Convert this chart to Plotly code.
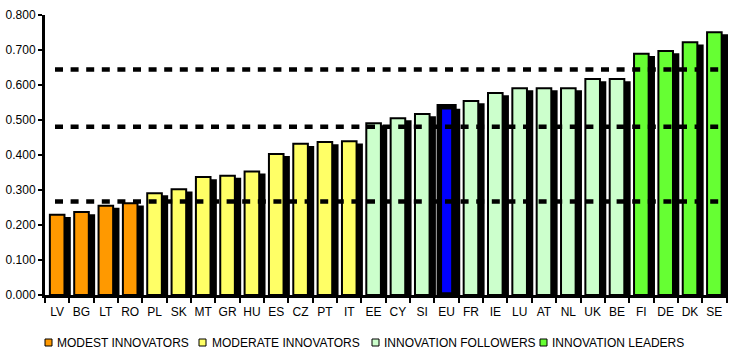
import plotly.graph_objects as go

# ---------------- data ----------------
countries = ["LV", "BG", "LT", "RO", "PL", "SK", "MT", "GR", "HU", "ES", "CZ", "PT", "IT",
             "EE", "CY", "SI", "EU", "FR", "IE", "LU", "AT", "NL", "UK", "BE",
             "FI", "DE", "DK", "SE"]
scores = [0.229, 0.237, 0.255, 0.262, 0.291, 0.302, 0.337, 0.341, 0.353, 0.403, 0.432, 0.437, 0.439,
          0.491, 0.505, 0.517, 0.538, 0.554, 0.577, 0.591, 0.591, 0.591, 0.617, 0.617,
          0.689, 0.697, 0.722, 0.751]
groups = (["MODEST"] * 4 + ["MODERATE"] * 9 + ["FOLLOWERS"] * 3 + ["EU"]
          + ["FOLLOWERS"] * 7 + ["LEADERS"] * 4)

group_keys = ["MODEST", "MODERATE", "FOLLOWERS", "LEADERS", "EU"]
group_labels = ["MODEST INNOVATORS", "MODERATE INNOVATORS", "INNOVATION FOLLOWERS",
                "INNOVATION LEADERS", "EU"]
group_colors = ["#FF9900", "#FFFF66", "#CCFFCC", "#66FF33", "#0000FF"]

thresholds = [0.267, 0.481, 0.644]
y_ticks = [0.0, 0.1, 0.2, 0.3, 0.4, 0.5, 0.6, 0.7, 0.8]

# ---------------- style ----------------
FONT = "Arial, Liberation Sans, sans-serif"
W, H = 736, 359
ML, MR, MT_, MB = 45, 8, 15, 64
PW, PH = W - ML - MR, H - MT_ - MB
SHADOW_DROP = 0.006


def px_x(p):
    return (p - ML) / PW


def px_y(p):
    return (H - MB - p) / PH


fig = go.Figure()

# shadow bars
fig.add_trace(go.Bar(
    x=countries, y=[s - SHADOW_DROP for s in scores],
    marker=dict(color="black", line=dict(width=0)),
    width=0.66, offset=-0.1, showlegend=False, hoverinfo="skip"))

# front bars by group
for key, label, color in zip(group_keys, group_labels, group_colors):
    xs = [c for c, g in zip(countries, groups) if g == key]
    ys = [s for s, g in zip(scores, groups) if g == key]
    fig.add_trace(go.Bar(
        x=xs, y=ys, name=label,
        marker=dict(color=color, line=dict(color="black", width=5.5 if key == "EU" else 2)),
        width=0.6, offset=-0.3, showlegend=False))

shapes = []
for t in thresholds:
    shapes.append(dict(type="line", xref="paper", yref="y", x0=px_x(55), x1=1.0, y0=t, y1=t,
                       line=dict(color="black", width=4.5, dash="8px,7.6px"), layer="above"))

# manual legend
legend_pos = [(45, 55), (199, 210), (372, 382), (540, 550)]
annotations = []
for (sx, tx), label, color in zip(legend_pos, group_labels[:4], group_colors[:4]):
    shapes.append(dict(type="rect", xref="paper", yref="paper",
                       x0=px_x(sx), x1=px_x(sx + 7), y0=px_y(346), y1=px_y(339),
                       fillcolor=color, line=dict(color="black", width=1)))
    annotations.append(dict(x=px_x(tx), y=px_y(342.5), xref="paper", yref="paper",
                            xanchor="left", yanchor="middle", showarrow=False, text=label,
                            font=dict(family=FONT, size=12, color="black")))

fig.update_layout(
    width=W, height=H,
    margin=dict(l=ML, r=MR, t=MT_, b=MB),
    barmode="overlay",
    plot_bgcolor="white", paper_bgcolor="white",
    font=dict(family=FONT, size=12, color="black"),
    shapes=shapes, annotations=annotations,
    showlegend=False,
)
fig.update_xaxes(type="category", categoryorder="array", categoryarray=countries,
                 showline=True, linewidth=3, linecolor="black", mirror=False,
                 ticks="outside", tickson="boundaries", ticklen=5, tickwidth=2, tickcolor="black",
                 tickangle=0, automargin=False, ticklabelstandoff=4,
                 showgrid=False, tickfont=dict(family=FONT, size=12, color="black"))
fig.update_yaxes(range=[0, 0.8], tickvals=y_ticks, tickformat=".3f",
                 showline=True, linewidth=3, linecolor="black",
                 ticks="outside", ticklen=4, tickwidth=2, tickcolor="black",
                 showgrid=False, zeroline=False, automargin=False,
                 tickfont=dict(family=FONT, size=12, color="black"))

fig.write_html("out.html", config={"displayModeBar": False},
               post_script="document.body.style.margin='0px';")
